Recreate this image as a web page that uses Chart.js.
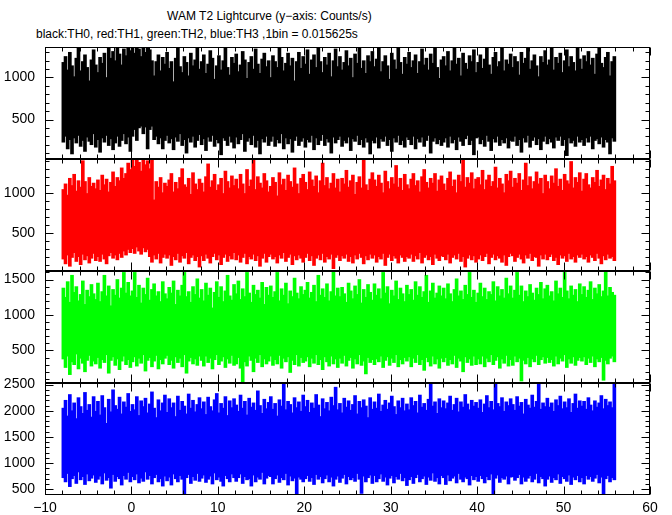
<!DOCTYPE html>
<html><head><meta charset="utf-8">
<script src="https://cdn.jsdelivr.net/npm/chart.js@4"></script>
<style>
html,body{margin:0;padding:0;background:#fff;width:672px;height:515px;overflow:hidden;position:relative}
canvas{position:absolute;left:0}
.t{position:absolute;font-family:'Liberation Sans',Arial,sans-serif;white-space:nowrap;line-height:1;color:#000}
</style></head><body>
<div id="t1" class="t">WAM T2 Lightcurve (y−axis: Counts/s)</div>
<div id="t2" class="t">black:TH0, red:TH1, green:TH2, blue:TH3 ,1bin = 0.015625s</div>
<canvas id="c0"></canvas><canvas id="c1"></canvas><canvas id="c2"></canvas><canvas id="c3"></canvas>
<script>
// time grid of the envelope bins (s)
const binStart = -8, binWidth = 0.25;
const xTicks = [-10, 0, 10, 20, 30, 40, 50, 60];

// TH0 (black) envelope per 0.25 s: max / min counts/s
const th0High = [
1180,1250,1090,1300,1140,1010,1230,1360,1080,1190,1270,1120,960,1210,1330,1150,
1060,1240,1170,1290,1000,1360,1230,1310,1200,1360,1280,1150,1340,1260,1360,1320,
1360,1290,1360,1340,1250,1360,1300,1360,1330,1200,1020,1190,1270,1080,1240,1160,
1300,1110,1190,950,1230,1350,1130,1060,1250,1180,1020,1290,1140,1210,1360,1100,
1190,1270,1050,1160,1320,1230,980,1140,1260,1090,1200,1360,1120,1030,1240,1170,
1280,1070,1150,1310,1210,990,1180,1250,1100,1340,1160,1050,1220,1290,1130,1200,
1000,1260,1190,1120,1350,1240,1080,1170,1290,1140,1230,960,1190,1300,1110,1250,
1160,1330,1040,1210,1270,1120,1360,1190,1060,1240,1150,1290,1010,1200,1340,1130,
1250,1090,1180,1320,1140,1230,1000,1280,1170,1360,1110,1200,1050,1260,1190,1310,
1130,1220,1350,1070,1190,1260,1140,980,1290,1210,1100,1360,1180,1040,1240,1160,
1300,1120,1200,1270,1050,1190,1340,1150,1230,1090,1280,1170,1360,1120,990,1210,
1250,1140,1310,1080,1200,1360,1160,1230,1020,1290,1170,1100,1260,1190,1330,1060,
1180,1270,1110,1220,1360,1150,1040,1240,1300,1130,1190,1350,1080,1210,1160,1280,
1120,1250,1190,1030,1300,1170,1230,1360,1100,1200,1270,1140,1010,1250,1180,1320,
1150,1210,1360,1090,1240,1170,1290,1060,1200,1330,1130,1250,1180,1080,1360,1220,
1100,1260,1190,1310,1150,1230,1040,1280,1360,1170,1120,1240,1300,1020,1190,1250];
const th0Low = [
230,300,150,260,90,280,220,310,180,250,120,290,240,200,330,170,
260,110,280,230,310,190,270,140,220,300,180,250,330,210,290,120,
300,380,250,400,420,330,410,150,380,420,260,300,210,280,150,250,
310,220,270,140,290,240,330,190,260,100,280,230,300,170,250,320,
200,270,130,290,240,310,180,260,220,80,280,250,190,300,230,160,
290,210,260,330,120,240,280,200,310,170,250,90,270,230,300,190,
240,300,180,260,220,330,150,280,210,270,110,250,300,190,240,280,
170,260,230,310,140,280,200,250,320,190,270,230,100,290,220,260,
300,180,250,220,290,130,270,240,310,200,260,170,280,230,90,250,
220,290,160,270,240,300,190,260,120,280,230,310,200,250,170,290,
260,200,300,150,270,230,290,180,250,310,100,240,280,210,260,190,
230,280,170,300,220,260,140,290,240,190,270,310,200,250,80,280,
290,210,260,180,310,240,130,270,230,300,190,260,220,280,160,250,
240,300,190,260,110,280,230,310,170,250,290,200,270,140,240,300,
210,270,230,160,290,250,300,190,260,70,280,220,250,180,300,230,
260,190,280,230,300,150,250,270,210,290,170,260,230,90,280,240];

// TH1 (red)
const th1High = [
1050,1120,980,1190,1100,1240,1030,1160,1080,1410,1150,1000,1200,1090,1130,1060,
1170,1040,1230,1110,1180,1020,1140,1270,1090,1200,1160,1320,1190,1250,1380,1300,
1420,1340,1430,1390,1280,1430,1360,1410,1310,1430,920,1150,1080,1200,1010,1130,
1090,1170,1250,1020,1140,1060,1200,1310,1110,1080,1190,990,1260,1120,1050,1180,
1130,1020,1210,1370,1080,1160,1240,1040,1110,1190,1000,1280,1150,1070,1220,1100,
1180,1060,1240,1120,1000,1300,1090,1170,1420,1050,1210,1130,1070,1250,1160,1020,
1090,1200,1140,970,1260,1110,1180,1040,1230,1150,1080,1320,1120,1000,1190,1240,
1140,1050,1270,1170,1090,1220,1010,1160,1380,1100,1200,1060,1130,1250,1070,1180,
1020,1190,1120,1290,1080,1160,1230,990,1140,1210,1070,1420,1110,1040,1180,1260,
1170,1090,1230,1130,1010,1280,1150,1060,1200,1120,1350,1080,1190,1040,1240,1110,
1060,1180,1250,1100,1160,1020,1210,1300,1140,1070,1190,1130,1250,1030,1170,1220,
1120,1040,1190,1270,1090,1170,1010,1230,1150,1420,1080,1200,1130,1260,1060,1180,
1200,1110,1290,1050,1170,1230,1090,1150,1330,1070,1190,1120,1010,1240,1160,1280,
1080,1190,1130,1250,1040,1170,1380,1100,1210,1060,1150,1270,1120,1190,1000,1230,
1150,1060,1220,1130,1310,1090,1180,1040,1240,1160,1120,1400,1070,1200,1140,1260,
1030,1180,1250,1110,1070,1200,1140,1290,1090,1170,1230,1050,1190,1120,1340,1160];
const th1Low = [
180,120,230,90,200,260,150,210,110,240,170,220,130,190,250,160,
210,150,240,180,120,220,260,190,230,170,250,200,280,230,300,260,
310,250,330,280,240,320,270,300,210,140,230,180,250,130,200,240,
190,230,100,210,170,250,140,220,190,260,120,200,230,160,210,80,
220,160,240,190,130,210,250,170,230,110,200,240,150,220,180,260,
170,230,140,200,250,120,210,180,240,160,220,90,190,250,140,210,
240,180,210,130,230,190,260,150,200,240,110,220,170,230,190,140,
200,250,160,220,100,190,230,170,250,140,210,180,240,60,200,230,
160,220,190,240,150,210,130,230,180,250,200,120,220,170,240,190,
230,140,210,180,250,100,200,240,160,220,190,130,230,200,150,210,
190,240,150,220,180,260,130,200,230,170,210,110,240,190,160,220,
210,170,240,130,200,230,180,250,150,210,80,190,230,170,220,140,
180,230,160,210,250,120,200,240,170,220,190,140,230,100,210,250,
220,150,200,240,180,130,230,190,250,160,210,200,90,230,180,240,
170,210,240,160,200,110,230,190,220,150,250,180,210,140,230,200,
240,180,210,140,230,200,160,250,190,120,220,170,240,190,210,160];

// TH2 (green)
const th2High = [
1380,1250,1470,1180,1560,1320,1400,1200,1290,1480,1150,1350,1260,1430,1300,1220,
1450,1190,1330,1560,1270,1410,1130,1360,1280,1500,1240,1380,1600,1310,1460,1270,
1340,1600,1250,1420,1170,1380,1290,1520,1210,1360,1440,1270,1330,1190,1470,1300,
1230,1390,1310,1480,1150,1350,1270,1420,1600,1260,1330,1180,1400,1290,1510,1240,
1360,1200,1450,1280,1380,1100,1320,1470,1250,1400,1190,1340,1560,1270,1210,1430,
1300,1480,1220,1370,1260,1600,1310,1180,1420,1290,1350,1240,1460,1150,1390,1280,
1410,1250,1330,1600,1200,1370,1280,1450,1160,1340,1260,1520,1310,1230,1400,1290,
1350,1460,1240,1320,1420,1190,1560,1280,1370,1250,1440,1200,1330,1610,1270,1380,
1260,1390,1300,1180,1450,1340,1230,1410,1290,1500,1170,1360,1250,1430,1320,1210,
1440,1280,1370,1230,1600,1310,1400,1160,1350,1270,1480,1220,1380,1300,1190,1420,
1290,1360,1210,1470,1280,1400,1250,1330,1560,1180,1340,1450,1240,1310,1410,1270,
1380,1230,1440,1300,1190,1360,1510,1270,1340,1220,1420,1290,1600,1250,1350,1180,
1310,1450,1260,1380,1220,1330,1290,1470,1200,1400,1270,1360,1240,1520,1300,1410,
1240,1350,1600,1280,1410,1190,1340,1260,1430,1310,1210,1380,1290,1460,1230,1370,
1420,1270,1330,1200,1480,1300,1380,1250,1600,1340,1230,1410,1280,1360,1190,1440,
1290,1400,1250,1350,1470,1220,1380,1300,1430,1260,1340,1610,1270,1390,1320,1280];
const th2Low = [
380,260,420,160,340,300,450,240,390,320,200,360,430,280,350,310,
400,250,370,330,440,180,360,410,290,380,230,350,420,300,370,260,
340,410,280,390,320,440,210,360,400,270,350,430,240,370,310,390,
430,300,360,250,410,330,390,270,440,180,350,400,310,380,290,420,
360,280,420,330,390,240,370,440,300,350,410,260,380,320,430,290,
310,400,250,60,340,280,420,360,200,390,330,440,270,380,310,350,
420,290,370,310,430,250,390,340,410,190,360,300,440,280,400,330,
350,410,270,390,320,440,300,370,230,410,340,280,420,310,380,260,
390,320,430,280,360,400,250,380,310,440,290,350,170,400,330,370,
300,380,340,420,260,360,410,290,390,330,440,270,370,310,400,350,
410,270,390,330,440,300,370,220,400,340,280,420,310,380,250,390,
340,400,290,370,310,430,260,390,350,200,410,330,380,290,420,300,
380,310,420,270,390,340,440,300,360,410,250,380,320,430,280,370,
290,420,340,390,70,360,310,400,270,380,340,430,300,370,410,320,
400,330,370,280,420,310,390,350,440,260,380,320,410,290,360,400,
350,410,300,390,330,420,270,380,340,400,80,360,310,390,420,340];

// TH3 (blue)
const th3High = [
2050,2200,1900,2310,2000,2150,1850,2250,2080,1950,2350,2010,2120,1880,2270,1990,
2180,1920,2290,2060,1760,2220,1980,2400,2100,2030,2260,1940,2170,2070,2330,1990,
2120,2020,2270,1910,2190,2080,2240,1960,2130,2360,2050,1870,2210,2000,2150,2300,
1970,2230,2060,2150,1890,2280,2010,2180,2090,1940,2320,2050,2200,1980,2120,2250,
2040,2170,1930,2260,2080,2000,2210,2330,1960,2140,2050,2270,1910,2190,2060,2230,
2110,1990,2300,2050,2180,1920,2240,2070,2150,2010,2380,2100,1950,2220,2040,2160,
2270,2030,2140,1900,2210,2090,2530,2020,2180,2120,1960,2250,2060,2170,1990,2300,
2080,2200,1970,2150,2050,2310,2110,1890,2230,2040,2160,2000,2260,2100,2450,2020,
2140,1960,2240,2070,2190,2010,2120,2290,1940,2180,2060,2210,2090,1870,2250,2030,
2170,2050,2320,1990,2110,2200,2030,2150,2280,2080,1930,2190,2060,2240,2000,2130,
2020,2250,2100,2180,1960,2300,2070,2140,2010,2220,2530,2090,2170,1950,2230,2060,
2190,2040,2150,2280,2010,2120,2240,1980,2170,2070,2310,2130,2020,2200,2090,2160,
2050,2210,1970,2130,2290,2060,2180,2020,2530,2140,2080,2250,1990,2170,2100,2230,
2120,2010,2270,2090,2160,1940,2220,2110,2050,2300,2070,2180,2530,2030,2150,2080,
2240,2070,2150,1990,2210,2100,2280,2040,2170,2060,2230,1970,2140,2320,2050,2190,
2090,2180,2030,2250,2110,2000,2190,2070,2150,2290,2040,2220,2100,2170,2060,2530];
const th3Low = [
720,640,800,550,700,760,610,830,680,740,590,790,660,710,770,630,
690,750,600,810,670,720,520,780,650,740,700,580,760,690,820,640,
740,680,790,620,710,650,830,690,760,600,720,780,640,700,560,750,
660,730,580,790,700,640,760,690,400,720,780,610,740,670,800,650,
710,770,630,690,750,600,810,680,730,650,560,760,700,640,790,720,
650,720,790,610,740,680,700,560,770,640,730,690,820,600,710,760,
740,600,700,770,630,720,680,800,580,750,660,710,400,730,690,640,
700,760,650,720,590,780,690,740,620,700,770,640,730,560,690,750,
630,710,780,600,740,680,720,650,800,690,420,750,640,720,770,610,
760,640,700,790,650,730,580,710,760,620,740,690,800,660,720,570,
680,740,610,720,780,640,700,750,590,730,670,810,650,720,600,760,
720,590,770,660,710,750,620,800,690,640,730,700,580,760,680,740,
650,760,700,620,740,680,790,410,710,770,630,720,690,750,600,730,
740,670,720,780,600,730,650,710,760,640,690,800,620,740,700,560,
690,750,630,720,680,790,610,740,700,650,770,590,730,680,760,640,
720,600,760,690,740,650,710,780,620,730,400,700,760,640,720,680];

const panels = [
  {high: th0High, low: th0Low, color: '#000000', yMin: 30,  yMax: 1363, yMajor: 500, yMinor: 100},
  {high: th1High, low: th1Low, color: '#ff0000', yMin: 31,  yMax: 1431, yMajor: 500, yMinor: 100},
  {high: th2High, low: th2Low, color: '#00ff00', yMin: 42,  yMax: 1620, yMajor: 500, yMinor: 100},
  {high: th3High, low: th3Low, color: '#0000ff', yMin: 390, yMax: 2530, yMajor: 500, yMinor: 100}
];

const FONT = "'Liberation Sans', Arial, sans-serif";
const PANEL_TOP = 47, PANEL_H = 112, PAD = 10, XLAB_H = 20, LEFT_W = 45, RIGHT_PAD = 22;

function fitText(id, targetW, baseline, left) {
  const el = document.getElementById(id);
  const c = document.createElement('canvas').getContext('2d');
  c.font = '12px ' + FONT;
  const fs = 12 * targetW / c.measureText(el.textContent).width;
  el.style.fontSize = fs + 'px';
  el.style.left = left + 'px';
  el.style.top = (baseline - 0.8465 * fs) + 'px';
}
fitText('t1', 205, 20, 167);
fitText('t2', 322, 37.7, 36);

const framePlugin = {
  id: 'frame',
  afterDraw(chart) {
    const {ctx, chartArea: a} = chart;
    const x = chart.scales.x, y = chart.scales.y;
    const o = chart.options.plugins.frame;
    const L = Math.round(a.left) + 0.5, R = Math.round(a.right) - 0.5;
    const T = Math.round(a.top) + 0.5, B = Math.round(a.bottom) - 0.5;
    ctx.save();
    ctx.strokeStyle = '#000'; ctx.lineWidth = 1;
    ctx.strokeRect(L, T, R - L, B - T);
    ctx.beginPath();
    for (let v = Math.ceil(y.min / o.yMinor) * o.yMinor; v <= y.max; v += o.yMinor) {
      const p = Math.round(y.getPixelForValue(v)) + 0.5;
      const len = (v % o.yMajor === 0) ? 8 : 4;
      ctx.moveTo(L, p); ctx.lineTo(L + len, p);
      ctx.moveTo(R, p); ctx.lineTo(R - len, p);
    }
    for (let v = x.min; v <= x.max; v += 2) {
      const p = Math.round(x.getPixelForValue(v)) + 0.5;
      const len = (v % 10 === 0) ? 8 : 4;
      ctx.moveTo(p, T); ctx.lineTo(p, T + len);
      ctx.moveTo(p, B); ctx.lineTo(p, B - len);
    }
    ctx.stroke();
    ctx.restore();
  }
};

panels.forEach((pn, i) => {
  const last = i === panels.length - 1;
  const cv = document.getElementById('c' + i);
  const h = PAD + PANEL_H + (last ? XLAB_H : PAD);
  cv.width = 672; cv.height = h;
  cv.style.top = (PANEL_TOP + PANEL_H * i - PAD) + 'px';
  const data = pn.high.map((hi, k) => ({x: binStart + binWidth * (k + 0.5), y: [pn.low[k], hi]}));
  new Chart(cv, {
    type: 'bar',
    data: {datasets: [{data, backgroundColor: pn.color, borderWidth: 0,
      barThickness: 3, grouped: false}]},
    options: {
      responsive: false, animation: false, devicePixelRatio: 1,
      layout: {padding: {top: PAD, bottom: last ? 0 : PAD, left: 0, right: RIGHT_PAD}},
      plugins: {legend: {display: false}, tooltip: {enabled: false},
        frame: {yMajor: pn.yMajor, yMinor: pn.yMinor}},
      scales: {
        x: {type: 'linear', min: -10, max: 60, offset: false,
          grid: {display: false, drawTicks: false, offset: false}, border: {display: false},
          afterBuildTicks: s => { s.ticks = xTicks.map(v => ({value: v})); },
          afterFit: s => { s.height = last ? XLAB_H : 0; s.paddingLeft = 0; s.paddingRight = 0; s.paddingTop = 0; s.paddingBottom = 0; },
          ticks: {display: last, autoSkip: false, maxRotation: 0, padding: 5, color: '#000',
            font: {family: FONT, size: 14},
            callback: v => (v < 0 ? '\u2212' + Math.abs(v) : String(v))}},
        y: {type: 'linear', min: pn.yMin, max: pn.yMax,
          grid: {display: false, drawTicks: false}, border: {display: false},
          afterBuildTicks: s => {
            const t = [];
            for (let v = Math.ceil(pn.yMin / pn.yMajor) * pn.yMajor; v <= pn.yMax; v += pn.yMajor) t.push({value: v});
            s.ticks = t;
          },
          afterFit: s => { s.width = LEFT_W; s.paddingTop = 0; s.paddingBottom = 0; s.paddingLeft = 0; s.paddingRight = 0; },
          ticks: {autoSkip: false, padding: 10, color: '#000',
            font: {family: FONT, size: 14},
            callback: v => String(v)}}
      }
    },
    plugins: [framePlugin]
  });
});
</script>
</body></html>
